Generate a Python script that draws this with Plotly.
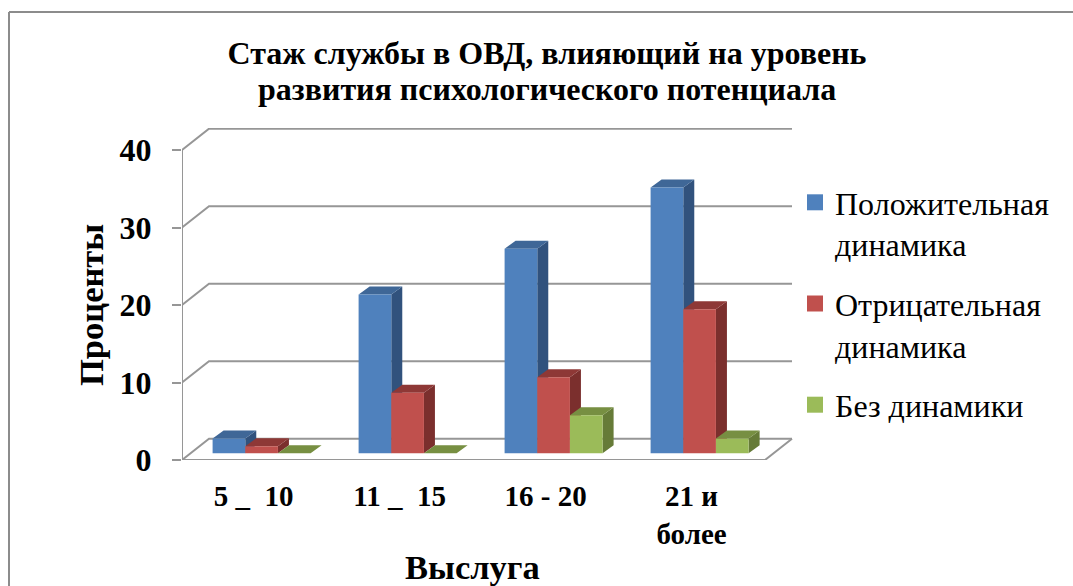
import plotly.graph_objects as go

CATEGORIES = ['5 _\u00a0\u00a010', '11 _\u00a0\u00a015', '16 - 20', '21 и<br>более']
SERIES = ['Положительная<br>динамика', 'Отрицательная<br>динамика', 'Без динамики']
POSITIVE = [1.9, 20.5, 26.4, 34.3]
NEGATIVE = [0.9, 7.8, 9.8, 18.6]
NO_CHANGE = [0, 0, 4.9, 1.9]
VALUE_TICKS = [0, 10, 20, 30, 40]
TITLE_LINES = ['Стаж службы в ОВД, влияющий на уровень', 'развития психологического потенциала']

FRONT = ['#4f81bd', '#c0504d', '#9bbb59']
SIDE = ['#31527d', '#7b2f2d', '#667b38']
TOP = ['#3f6797', '#8e3836', '#778f42']
GRID = '#969696'
FONT = 'Liberation Serif'

W, H = 1073, 586
# plot box in pixels
LEFT, RIGHT, TOP_PX, BOTTOM = 182, 793, 128, 460
X_UNIT = 146.0   # px per category
Y_UNIT = 7.75    # px per percent
X0 = -79.6 / X_UNIT
X_RANGE = [X0, X0 + (RIGHT - LEFT) / X_UNIT]
Y_RANGE = [0, (BOTTOM - TOP_PX) / Y_UNIT]

# fake 3d offsets, px converted to axis units
WALL_DX, WALL_DY = 27.0 / X_UNIT, 21.3 / Y_UNIT
BAR_DX, BAR_DY = 11.0 / X_UNIT, 8.0 / Y_UNIT
LIFT = 6.7 / Y_UNIT
BARGAP = 1 - 98.0 / X_UNIT
BAR_W = (1 - BARGAP) / 3
LABEL_SHIFT = 8.0 / X_UNIT


def px_x(px):
    return (px - LEFT) / (RIGHT - LEFT)


def px_y(px):
    return (BOTTOM - px) / (BOTTOM - TOP_PX)


def polygons(points_list):
    xs, ys = [], []
    for pts in points_list:
        for p in pts + [pts[0]]:
            xs.append(p[0])
            ys.append(p[1])
        xs.append(None)
        ys.append(None)
    return xs, ys


fig = go.Figure()

# walls: every gridline runs from the front axis back and along the wall
left_x = X_RANGE[0]
right_x = X_RANGE[1] - 1.0 / X_UNIT
for v in VALUE_TICKS:
    fig.add_trace(go.Scatter(
        x=[left_x, left_x + WALL_DX, right_x],
        y=[v, v + WALL_DY, v + WALL_DY],
        mode='lines', line=dict(color=GRID, width=2),
        hoverinfo='skip', showlegend=False, cliponaxis=False))
fig.add_trace(go.Scatter(
    x=[left_x, left_x], y=[VALUE_TICKS[0], VALUE_TICKS[-1]],
    mode='lines', line=dict(color=GRID, width=2),
    hoverinfo='skip', showlegend=False, cliponaxis=False))
fig.add_trace(go.Scatter(
    x=[left_x, right_x - WALL_DX, right_x],
    y=[0, 0, WALL_DY],
    mode='lines', line=dict(color=GRID, width=2),
    hoverinfo='skip', showlegend=False, cliponaxis=False))

# side and top faces of the bars
for j, values in enumerate([POSITIVE, NEGATIVE, NO_CHANGE]):
    sides, tops = [], []
    for i, val in enumerate(values):
        l = i - 1.5 * BAR_W + j * BAR_W
        r = l + BAR_W
        t = LIFT + val
        sides.append([(r, LIFT), (r, t), (r + BAR_DX, t + BAR_DY), (r + BAR_DX, LIFT + BAR_DY)])
        tops.append([(l, t), (r, t), (r + BAR_DX, t + BAR_DY), (l + BAR_DX, t + BAR_DY)])
    for faces, color in [(sides, SIDE[j]), (tops, TOP[j])]:
        xs, ys = polygons(faces)
        fig.add_trace(go.Scatter(
            x=xs, y=ys, mode='lines', fill='toself', fillcolor=color,
            line=dict(width=0), hoverinfo='skip', showlegend=False))

# front faces sit on the overlay axes so they cover the neighbour's side
for j, values in enumerate([POSITIVE, NEGATIVE, NO_CHANGE]):
    fig.add_trace(go.Bar(
        x=list(range(len(CATEGORIES))), y=values, base=LIFT,
        marker=dict(color=FRONT[j], line=dict(width=0)),
        xaxis='x2', yaxis='y2', hoverinfo='skip', showlegend=False))

# legend entries
for j, name in enumerate(SERIES):
    fig.add_trace(go.Scatter(
        x=[None], y=[None], mode='markers', name=name, legendgroup=str(j),
        marker=dict(symbol='square', size=16, color=FRONT[j])))

fig.update_layout(
    width=W, height=H,
    autosize=False,
    margin=dict(l=LEFT, r=W - RIGHT, t=TOP_PX, b=H - BOTTOM, pad=0),
    paper_bgcolor='white', plot_bgcolor='rgba(0,0,0,0)',
    barmode='group', bargap=BARGAP, bargroupgap=0,
    font=dict(family=FONT, color='black'),
    title=dict(
        text='<b>%s</b>' % TITLE_LINES[0],
        x=547 / W, xanchor='center', y=1 - 53 / H, yanchor='middle',
        font=dict(family=FONT, size=32, color='black')),
    xaxis=dict(
        range=X_RANGE, tickmode='array',
        tickvals=[i - LABEL_SHIFT for i in range(len(CATEGORIES))],
        ticktext=['<b>%s</b>' % c for c in CATEGORIES],
        tickfont=dict(family=FONT, size=29, color='black'),
        showgrid=False, zeroline=False, showline=False, ticks='',
        ticklabelstandoff=16),
    yaxis=dict(
        range=Y_RANGE, tickmode='array', tickvals=VALUE_TICKS,
        ticktext=['<b>%d</b>' % v for v in VALUE_TICKS],
        tickfont=dict(family=FONT, size=32, color='black'),
        showgrid=False, zeroline=False, showline=False,
        ticks='outside', ticklen=9, tickwidth=2, tickcolor=GRID,
        ticklabelstandoff=14),
    xaxis2=dict(range=X_RANGE, overlaying='x', visible=False),
    yaxis2=dict(range=Y_RANGE, overlaying='y', visible=False),
    legend=dict(
        xref='container', yref='container',
        x=806 / W, y=1 - 175 / H, xanchor='left', yanchor='top',
        bgcolor='rgba(0,0,0,0)', itemwidth=30, itemsizing='trace',
        indentation=-11, valign='top',
        tracegroupgap=15, traceorder='grouped',
        font=dict(family=FONT, size=32, color='black')),
    annotations=[
        dict(text='<b>%s</b>' % TITLE_LINES[1], xref='paper', yref='paper',
             x=px_x(547), y=px_y(89), showarrow=False,
             xanchor='center', yanchor='middle',
             font=dict(family=FONT, size=32, color='black')),
        dict(text='<b>Проценты</b>', xref='paper', yref='paper',
             x=px_x(91), y=px_y(305), textangle=-90, showarrow=False,
             xanchor='center', yanchor='middle',
             font=dict(family=FONT, size=34.5, color='black')),
        dict(text='<b>Выслуга</b>', xref='paper', yref='paper',
             x=px_x(472), y=px_y(567), showarrow=False,
             xanchor='center', yanchor='middle',
             font=dict(family=FONT, size=34.5, color='black')),
    ],
    shapes=[
        dict(type='line', xref='paper', yref='paper', x0=px_x(9), x1=px_x(9),
             y0=px_y(H), y1=px_y(12), line=dict(color='#8c8c8c', width=2)),
        dict(type='line', xref='paper', yref='paper', x0=px_x(9), x1=px_x(W),
             y0=px_y(12), y1=px_y(12), line=dict(color='#8c8c8c', width=2)),
    ],
)

# page body has a default margin, drop it so pixels line up with the window
fig.write_html("out.html", config=dict(displayModeBar=False),
               post_script="document.body.style.margin='0';document.body.style.overflow='hidden';")
